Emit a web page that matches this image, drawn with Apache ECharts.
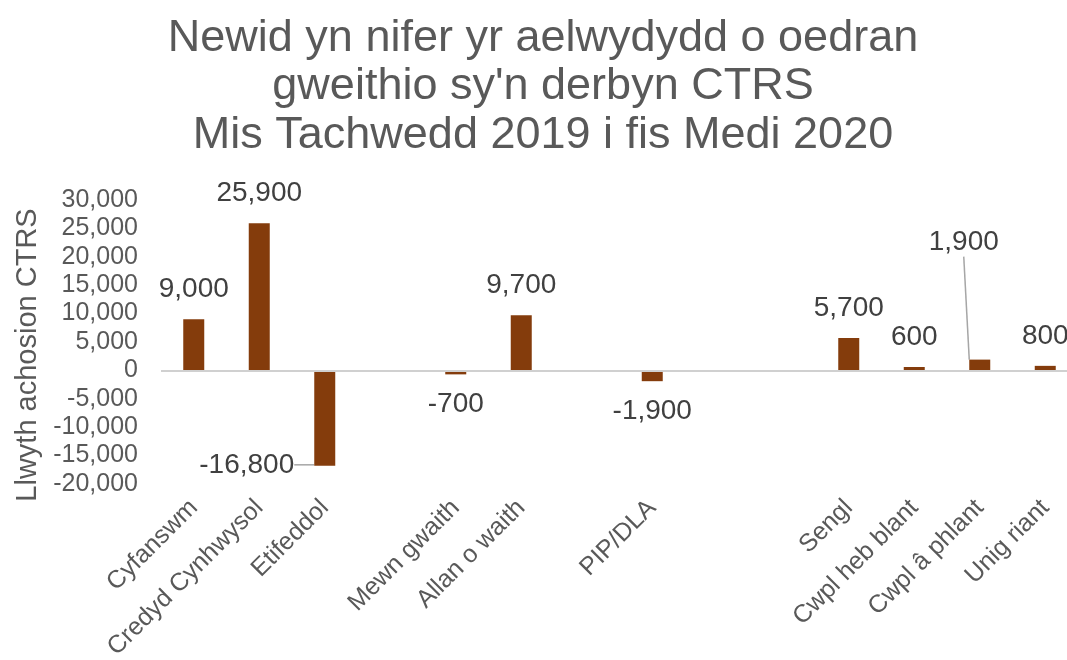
<!DOCTYPE html>
<html>
<head>
<meta charset="utf-8">
<script src="https://cdn.jsdelivr.net/npm/echarts@6/dist/echarts.min.js"></script>
<style>
  html, body { margin: 0; padding: 0; background: #fff; }
  #chart { width: 1067px; height: 660px; }
</style>
</head>
<body>
<div id="chart"></div>
<script>
// categories ('' = gap between groups)
const categories = ['Cyfanswm', 'Credyd Cynhwysol', 'Etifeddol', '', 'Mewn gwaith', 'Allan o waith', '',
  'PIP/DLA', '', '', 'Sengl', 'Cwpl heb blant', 'Cwpl â phlant', 'Unig riant']
const values = [9000, 25900, -16800, null, -700, 9700, null, -1900, null, null, 5700, 600, 1900, 800]
const yTicks = { min: -20000, max: 30000, step: 5000 }

// labels that were moved in the original, with a leader line
const movedLabels = { 2: { dx: -78, dy: -31 }, 12: { dx: -16, dy: -87 } }

const font = 'Liberation Sans, Arial, sans-serif'
const fmt = v => Number(v).toLocaleString('en-US')

const chart = echarts.init(document.getElementById('chart'))

const option = {
  backgroundColor: '#fff',
  animation: false,
  title: {
    text: 'Newid yn nifer yr aelwydydd o oedran\ngweithio sy\'n derbyn CTRS\nMis Tachwedd 2019 i fis Medi 2020',
    left: 538,
    top: 9,
    textAlign: 'center',
    textStyle: { color: '#595959', fontSize: 45, fontWeight: 'normal', fontFamily: font, lineHeight: 48.5 }
  },
  grid: { left: 161, right: -11, top: 200, bottom: 176, outerBoundsMode: 'none' },
  xAxis: {
    type: 'category',
    data: categories,
    axisLine: { show: false, onZero: false },
    axisTick: { show: false },
    axisLabel: { interval: 0, rotate: 45, margin: 20, fontSize: 25, color: '#595959', fontFamily: font }
  },
  yAxis: {
    type: 'value',
    min: yTicks.min,
    max: yTicks.max,
    interval: yTicks.step,
    name: 'Llwyth achosion CTRS',
    nameLocation: 'middle',
    nameGap: 118,
    nameTextStyle: { color: '#595959', fontSize: 29, fontFamily: font, padding: [0, 26, 0, 0] },
    axisLine: { show: false },
    axisTick: { show: false },
    splitLine: { show: false },
    axisLabel: { margin: 23, fontSize: 25, color: '#595959', fontFamily: font, formatter: fmt }
  },
  series: [{
    type: 'bar',
    barWidth: 21,
    itemStyle: { color: '#843C0C' },
    data: values.map((v, i) => v === null ? '-' : {
      value: v,
      label: { position: v < 0 ? 'bottom' : 'top' },
      labelLine: { show: !!movedLabels[i] }
    }),
    label: {
      show: true,
      distance: 16,
      fontSize: 28,
      color: '#404040',
      fontFamily: font,
      formatter: p => fmt(p.value)
    },
    labelLine: { show: false, lineStyle: { color: '#a6a6a6', width: 1.5 } },
    labelLayout: p => movedLabels[p.dataIndex] || {},
    markLine: {
      silent: true,
      symbol: 'none',
      label: { show: false },
      lineStyle: { color: '#d0d0d0', width: 2, type: 'solid' },
      data: [{ yAxis: 0 }]
    }
  }]
}

chart.setOption(option)
</script>
</body>
</html>
